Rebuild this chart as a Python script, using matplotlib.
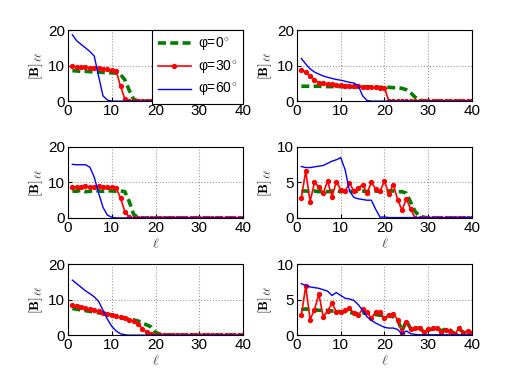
import numpy as np
import matplotlib
matplotlib.use("Agg")
import matplotlib.pyplot as plt

ell = list(range(1, 41))

def pad(vals, n=40, fill=0.0):
    return list(vals) + [fill] * (n - len(vals))

# Panel (1,1)
p11_phi0 = pad([8.6, 8.5, 8.4, 8.4, 8.3, 8.2, 8.2, 8.1, 8.0, 8.0, 7.9, 7.5, 6.0, 3.0, 0.5, 0.1])
p11_phi30 = pad([9.8, 9.7, 9.6, 9.5, 9.4, 9.3, 9.2, 9.1, 9.0, 8.7, 8.5, 4.2, 0.6, 0.0])
p11_phi60 = pad([18.7, 17.0, 16.0, 15.0, 14.0, 12.7, 7.0, 1.5, 0.3, 0.0])

# Panel (1,2)
p12_phi0 = pad([4.2, 4.2, 4.2, 4.2, 4.2, 4.1, 4.1, 4.1, 4.1, 4.1, 4.0, 4.0, 4.0, 4.0, 4.0, 4.0,
                4.0, 4.0, 3.9, 3.9, 3.9, 3.8, 3.8, 3.6, 3.2, 2.3, 1.1, 0.3, 0.05])
p12_phi30 = pad([8.7, 8.2, 7.0, 6.0, 5.2, 5.0, 4.8, 4.7, 4.6, 4.5, 4.4, 4.4, 4.3, 4.2, 4.1, 4.0,
                 3.9, 3.9, 3.8, 3.7, 0.0])
p12_phi60 = pad([12.0, 10.5, 9.1, 8.2, 7.6, 7.1, 6.7, 6.4, 6.1, 5.9, 5.6, 5.3, 5.1, 4.4, 1.5, 0.2, 0.0])

# Panel (2,1)
p21_phi0 = pad([7.6, 7.5, 7.8, 7.4, 7.5, 7.8, 7.6, 7.5, 7.7, 7.6, 7.5, 7.6, 7.4, 4.6, 1.0, 0.2])
p21_phi30 = pad([8.7, 8.8, 8.6, 9.0, 8.7, 8.6, 8.9, 8.7, 8.8, 8.6, 8.5, 5.6, 1.8, 0.2, 0.0])
p21_phi60 = pad([15.1, 15.0, 15.0, 15.0, 14.3, 11.5, 7.0, 3.0, 0.8, 0.2, 0.0])

# Panel (2,2)
p22_phi0 = pad([3.8, 3.8, 3.7, 3.8, 3.7, 3.8, 3.7, 3.8, 3.8, 3.7, 3.8, 3.8, 3.7, 3.8, 3.8, 3.7,
                3.8, 3.8, 3.7, 3.8, 3.8, 3.8, 3.7, 3.7, 3.5, 2.2, 0.9, 0.25, 0.1, 0.0])
p22_phi30 = pad([2.8, 6.6, 2.3, 5.0, 4.4, 3.5, 5.2, 3.0, 5.1, 4.0, 3.8, 4.9, 3.8, 4.2, 4.7, 3.5,
                 5.0, 4.1, 3.8, 5.2, 3.4, 4.7, 2.6, 1.1, 2.7, 1.2, 0.0])
p22_phi60 = pad([7.25, 7.1, 7.1, 7.2, 7.3, 7.4, 7.7, 8.0, 8.2, 8.5, 6.8, 3.8, 2.9, 2.7, 2.6, 2.5,
                 2.5, 1.2, 0.1, 0.15], fill=0.05)

# Panel (3,1)
p31_phi0 = pad([7.5, 7.3, 7.1, 6.9, 6.7, 6.5, 6.3, 6.1, 5.9, 5.7, 5.4, 5.1, 4.8, 4.5, 4.3, 4.0,
                3.4, 2.9, 2.3, 0.8, 0.3, 0.1, 0.05])
p31_phi30 = pad([8.6, 8.3, 8.0, 7.6, 7.3, 7.0, 6.7, 6.3, 6.0, 5.7, 5.3, 5.0, 4.7, 4.3, 3.9, 3.2,
                 1.8, 0.8, 0.3, 0.0])
p31_phi60 = pad([15.5, 14.5, 13.5, 12.5, 11.7, 10.8, 9.5, 7.0, 4.5, 2.5, 1.2, 0.4, 0.1, 0.0])

# Panel (3,2)
p32_phi0 = pad([3.6, 3.7, 3.6, 3.6, 3.5, 3.5, 3.5, 3.4, 3.4, 3.3, 3.3, 3.2, 3.1, 3.0, 3.1, 3.1,
                3.0, 2.9, 2.8, 2.7, 2.7, 2.6, 2.2, 0.6, 2.0, 0.9, 1.0, 1.0, 0.5, 0.7, 0.9, 1.0,
                0.6, 0.9, 0.7, 0.2, 0.9, 0.4, 0.6, 0.3])
p32_phi30 = pad([2.8, 6.9, 2.2, 3.6, 5.8, 2.6, 3.4, 4.5, 3.3, 3.3, 3.5, 3.8, 3.1, 2.8, 3.7, 3.2,
                 2.4, 3.3, 3.2, 2.4, 2.8, 3.0, 2.2, 0.3, 1.9, 0.8, 1.0, 1.0, 0.4, 0.8, 1.0, 1.0,
                 0.5, 0.7, 0.6, 0.1, 1.0, 0.3, 0.6, 0.3])
p32_phi60 = pad([7.25, 7.0, 6.8, 6.7, 6.6, 6.4, 6.2, 5.6, 6.0, 5.6, 5.2, 5.1, 4.9, 4.3, 3.5, 2.6,
                 2.1, 1.7, 1.4, 1.1, 1.0, 1.0, 0.8, 0.15, 0.6, 0.2, 0.1], fill=0.05)

panels = [
    (p11_phi0, p11_phi30, p11_phi60, 20, [0, 10, 20]),
    (p12_phi0, p12_phi30, p12_phi60, 20, [0, 10, 20]),
    (p21_phi0, p21_phi30, p21_phi60, 20, [0, 10, 20]),
    (p22_phi0, p22_phi30, p22_phi60, 10, [0, 5, 10]),
    (p31_phi0, p31_phi30, p31_phi60, 20, [0, 10, 20]),
    (p32_phi0, p32_phi30, p32_phi60, 10, [0, 5, 10]),
]
xticks = [0, 10, 20, 30, 40]
labels = ["φ=0$^{\\circ}$", "φ=30$^{\\circ}$", "φ=60$^{\\circ}$"]

plt.rcParams['font.family'] = ['Liberation Sans', 'DejaVu Sans']
plt.rcParams['mathtext.fontset'] = 'cm'

fig = plt.figure(figsize=(5.21, 3.92), dpi=100)
lefts = [0.1305, 0.570]
bottoms = [0.742, 0.444, 0.145]
w, h = 0.336, 0.181

for i, (g, r, b, ymax, yt) in enumerate(panels):
    row, col = divmod(i, 2)
    ax = fig.add_axes([lefts[col], bottoms[row], w, h])
    lg, = ax.plot(ell, g, color='#008000', ls='--', lw=2.6, dashes=(2.2, 1.2), label=labels[0])
    lr, = ax.plot(ell, r, color='red', lw=1.2, marker='o', ms=2.8, label=labels[1])
    lb, = ax.plot(ell, b, color='blue', lw=1.0, label=labels[2])
    ax.set_xlim(0, 40)
    ax.set_ylim(0, ymax)
    ax.set_xticks(xticks)
    ax.set_yticks(yt)
    ax.grid(True, ls=':', color='#999999', lw=0.8)
    ax.tick_params(direction='in', labelsize=11, length=3, pad=2)
    ax.set_ylabel(r'$[\mathbf{B}]_{\ell\ell}$', fontsize=10, labelpad=2)
    if row > 0:
        ax.set_xlabel(r'$\ell$', fontsize=10, labelpad=1, color='#444444')
    for s in ax.spines.values():
        s.set_linewidth(0.8)
    if i == 0:
        leg = ax.legend(handles=[lg, lr, lb], loc='upper right', fontsize=10,
                        fancybox=False, edgecolor='black', framealpha=1,
                        borderaxespad=0.0, handlelength=2.4, labelspacing=0.4,
                        borderpad=0.4, handletextpad=0.5)
        leg.get_frame().set_linewidth(0.8)

fig.savefig('out.png', dpi=100)
